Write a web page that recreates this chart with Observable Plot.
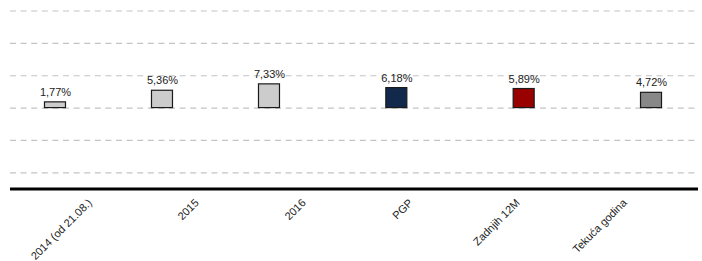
<!DOCTYPE html>
<html>
<head>
<meta charset="utf-8">
<script src="https://cdn.jsdelivr.net/npm/d3@7"></script>
<script src="https://cdn.jsdelivr.net/npm/@observablehq/plot@0.6"></script>
<style>
  html, body { margin: 0; padding: 0; background: #fff; }
  #chart svg { display: block; }
</style>
</head>
<body>
<div id="chart"></div>
<script>
// Data
const categories = ["2014 (od 21.08.)", "2015", "2016", "PGP", "Zadnjih 12M", "Tekuća godina"];
const values = [1.77, 5.36, 7.33, 6.18, 5.89, 4.72];
const valueLabels = ["1,77%", "5,36%", "7,33%", "6,18%", "5,89%", "4,72%"];
const seriesOf = ["Godine", "Godine", "Godine", "PGP", "Zadnjih 12M", "Tekuća godina"];
const seriesNames = ["Godine", "PGP", "Zadnjih 12M", "Tekuća godina"];
const seriesColors = ["#cccccc", "#13294b", "#990000", "#888888"];
const gridTicks = [-20, -10, 0, 10, 20, 30];

const data = categories.map((c, i) => ({
  category: c, value: values[i], label: valueLabels[i], series: seriesOf[i]
}));

const W = 702, H = 261;
const marginLeft = 10, marginRight = 4;
const paddingInner = 0.806, paddingOuter = 0.616;
const step = (W - marginLeft - marginRight) / (categories.length - paddingInner + 2 * paddingOuter);
const slot = step * 0.19; // grouped-column slot width

const seriesMarks = seriesNames.flatMap((s, si) => {
  const d = data.filter(r => r.series === s);
  const dx = (si - 1.5) * slot;
  return [
    Plot.barY(d, {x: "category", y: "value", fill: seriesColors[si], stroke: "#1a1a1a", strokeWidth: 1.2, dx}),
    Plot.text(d, {x: "category", y: "value", text: "label", dx, dy: -10, fontSize: 11, fill: "#222"})
  ];
});

const chart = Plot.plot({
  width: W,
  height: H,
  marginLeft,
  marginRight,
  marginTop: 10.5,
  marginBottom: 72.5,
  style: {fontFamily: "'Liberation Sans', Arial, sans-serif", fontSize: "11px", background: "#fff"},
  x: {type: "band", domain: categories, paddingInner, paddingOuter, align: 0.491, axis: null, label: null},
  y: {domain: [-25, 30], axis: null},
  marks: [
    Plot.ruleY(gridTicks, {stroke: "#c4c4c4", strokeWidth: 1.2, strokeDasharray: "6,4.6"}),
    ...seriesMarks,
    Plot.ruleY([-25], {stroke: "#000", strokeWidth: 3}),
    Plot.axisX({tickRotate: -45, tickSize: 0, tickPadding: 12, dx: 4, fontSize: 11, fill: "#222", label: null})
  ]
});
document.getElementById("chart").appendChild(chart);
</script>
</body>
</html>
